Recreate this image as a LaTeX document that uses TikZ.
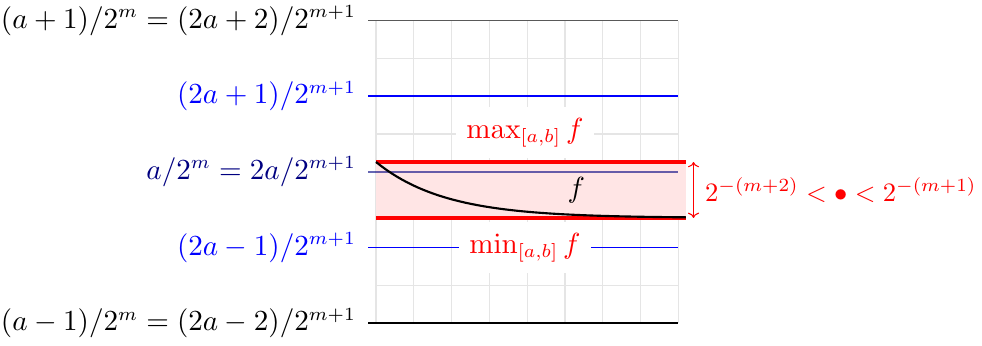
\documentclass[tikz,border=0pt]{standalone}
\usepackage{amsmath}
\usepackage{xcolor}
\usepackage{tikz}
\usetikzlibrary{positioning,arrows.meta}

\begin{document}
\begin{tikzpicture}[
    every node/.style={font=\fontsize{10.6}{13}\selectfont},
    grid line/.style={black!10, line width=0.4pt},
    level line/.style={line width=0.55pt},
    bound line/.style={red, line width=1.5pt},
    level label/.style={anchor=east, inner sep=4.5pt},
    bound label/.style={red, fill=white, inner sep=4pt}
]
\useasboundingbox (-4.974,-0.291) rectangle (8.016,4.273);
\draw[grid line] (0,0) grid[step=0.5] (4,4);
\fill[red!10] (0,1.39) rectangle (4.1,2.13);

% dyadic levels
\coordinate (top) at (-0.1,4);
\coordinate (upper) at (-0.1,3);
\coordinate (mid) at (-0.1,2);
\coordinate (lower) at (-0.1,1);
\coordinate (bottom) at (-0.1,0);
\draw[level line, black!65] (top) -- +(4.1,0);
\draw[level line, blue] (upper) -- +(4.1,0);
\draw[level line, blue!50!black, opacity=0.6] (mid) -- +(4.1,0);
\draw[level line, blue] (lower) -- +(4.1,0);
\draw[level line, black] (bottom) -- +(4.1,0);

\node[level label] (ltop) at (top) {$(a+1)/2^m=(2a+2)/2^{m+1}$};
\node[level label, blue] (lupper) at (upper) {$(2a+1)/2^{m+1}$};
\node[level label, blue!50!black] (lmid) at (mid) {$a/2^m=2a/2^{m+1}$};
\node[level label, blue] (llower) at (lower) {$(2a-1)/2^{m+1}$};
\node[level label] (lbottom) at (bottom) {$(a-1)/2^m=(2a-2)/2^{m+1}$};

% bounds of f
\coordinate (maxl) at (0,2.13);
\coordinate (maxr) at (4.1,2.13);
\coordinate (minl) at (0,1.39);
\coordinate (minr) at (4.1,1.39);
\draw[bound line] (maxl) -- (maxr);
\draw[bound line] (minl) -- (minr);
\draw[thick, domain=0:4.1, samples=60] plot (\x,{1.39+0.74*exp(-1.1*\x)});
\node (f) at (2.65,1.76) {$f$};

\node[bound label] (maxf) at (1.97,2.52) {$\max_{[a,b]} f$};
\node[bound label] (minf) at (1.97,1) {$\min_{[a,b]} f$};

\coordinate (gapt) at (4.2,2.13);
\coordinate (gapb) at (4.2,1.39);
\coordinate (gapm) at (4.2,1.76);
\draw[red, {To[length=2pt]}-{To[length=2pt]}] (gapt) -- (gapb);
\node[red, font=\fontsize{10}{12}\selectfont, right=0.03cm of gapm] (gap) {$2^{-(m+2)}<\bullet<2^{-(m+1)}$};
\end{tikzpicture}
\end{document}
